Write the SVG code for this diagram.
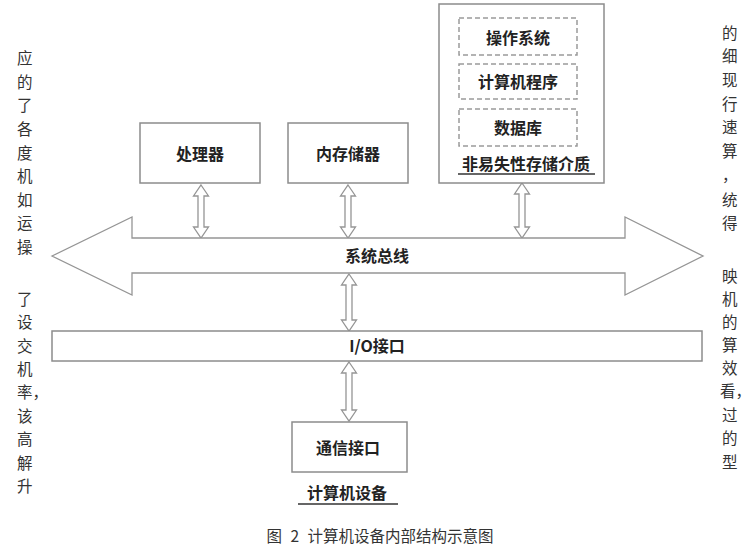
<svg xmlns="http://www.w3.org/2000/svg" width="754" height="549" viewBox="0 0 754 549">
<style>
.bg{font-family:"Noto Sans CJK SC","Liberation Serif",serif;font-size:15.5px;fill:#333}
.box{fill:#fff;stroke:#8c8c8c;stroke-width:1.5}
.dash{fill:#fff;stroke:#9a9a9a;stroke-width:1.5;stroke-dasharray:5 3}
.lbl{font-family:"Noto Sans CJK SC","Liberation Sans",sans-serif;font-size:16px;font-weight:bold;fill:#222;text-anchor:middle}
.arr{fill:#fff;stroke:#959595;stroke-width:1.3;stroke-linejoin:miter}
.ul{stroke:#333;stroke-width:1.6}
.cap{font-family:"Noto Sans CJK SC","Liberation Serif",serif;font-size:15.5px;fill:#333;text-anchor:middle;word-spacing:5px}
</style>
<rect width="754" height="549" fill="#fff"/>
<g id="page-text" class="bg">
<text x="17" y="64">应</text>
<text x="17" y="88">的</text>
<text x="17" y="111">了</text>
<text x="17" y="135">各</text>
<text x="17" y="159">度</text>
<text x="17" y="182">机</text>
<text x="17" y="206">如</text>
<text x="17" y="229">运</text>
<text x="17" y="253">操</text>
<text x="17" y="305">了</text>
<text x="17" y="328">设</text>
<text x="17" y="352">交</text>
<text x="17" y="375">机</text>
<text x="17" y="398">率，</text>
<text x="17" y="422">该</text>
<text x="17" y="445">高</text>
<text x="17" y="469">解</text>
<text x="17" y="492">升</text>
<text x="722" y="39">的</text>
<text x="722" y="62">细</text>
<text x="722" y="86">现</text>
<text x="722" y="110">行</text>
<text x="722" y="133">速</text>
<text x="722" y="157">算</text>
<text x="722" y="181">，</text>
<text x="722" y="206">统</text>
<text x="722" y="229">得</text>
<text x="722" y="282">映</text>
<text x="722" y="305">机</text>
<text x="722" y="328">的</text>
<text x="722" y="351">算</text>
<text x="722" y="374">效</text>
<text x="720" y="397">看，</text>
<text x="722" y="421">过</text>
<text x="722" y="444">的</text>
<text x="722" y="468">型</text>
</g>
<rect x="42" y="0" width="666" height="515" fill="#fff"/>
<g id="connectors">
<polygon class="arr" points="201,185 208.5,196 204,196 204,227 208.5,227 201,238 193.5,227 198,227 198,196 193.5,196"/>
<polygon class="arr" points="348,185 355.5,196 351,196 351,227 355.5,227 348,238 340.5,227 345,227 345,196 340.5,196"/>
<polygon class="arr" points="522,183 529.5,194 525,194 525,227 529.5,227 522,238 514.5,227 519,227 519,194 514.5,194"/>
<polygon class="arr" points="349,274 356.5,285 352,285 352,320 356.5,320 349,331 341.5,320 346,320 346,285 341.5,285"/>
<polygon class="arr" points="349,362 356.5,373 352,373 352,410 356.5,410 349,421 341.5,410 346,410 346,373 341.5,373"/>
</g>
<g id="storage">
<rect class="box" x="439" y="4" width="165" height="179"/>
<g id="os"><rect class="dash" x="459" y="18" width="118" height="37"/><text class="lbl" x="518" y="44">操作系统</text></g>
<g id="program"><rect class="dash" x="459" y="64" width="118" height="35"/><text class="lbl" x="518" y="88">计算机程序</text></g>
<g id="database"><rect class="dash" x="459" y="109" width="118" height="37"/><text class="lbl" x="518" y="134">数据库</text></g>
<text class="lbl" x="526" y="170">非易失性存储介质</text>
<line class="ul" x1="458" y1="174" x2="595" y2="174"/>
</g>
<g id="processor"><rect class="box" x="140" y="123" width="120" height="60"/><text class="lbl" x="200" y="160">处理器</text></g>
<g id="memory"><rect class="box" x="288" y="123" width="120" height="60"/><text class="lbl" x="348" y="160">内存储器</text></g>
<g id="bus">
<polygon class="arr" points="52,256 132,217 132,238 625,238 625,217 703,256 625,295 625,273 132,273 132,295"/>
<text class="lbl" x="377" y="262">系统总线</text>
</g>
<g id="io"><rect class="box" x="52" y="331" width="650" height="30"/><text class="lbl" x="377" y="352">I/O接口</text></g>
<g id="comm"><rect class="box" x="292" y="422" width="115" height="50"/><text class="lbl" x="348" y="454">通信接口</text></g>
<g id="device"><text class="lbl" x="347" y="499">计算机设备</text><line class="ul" x1="298" y1="504" x2="398" y2="504"/></g>
<text class="cap" x="380" y="542">图 2 计算机设备内部结构示意图</text>
</svg>
